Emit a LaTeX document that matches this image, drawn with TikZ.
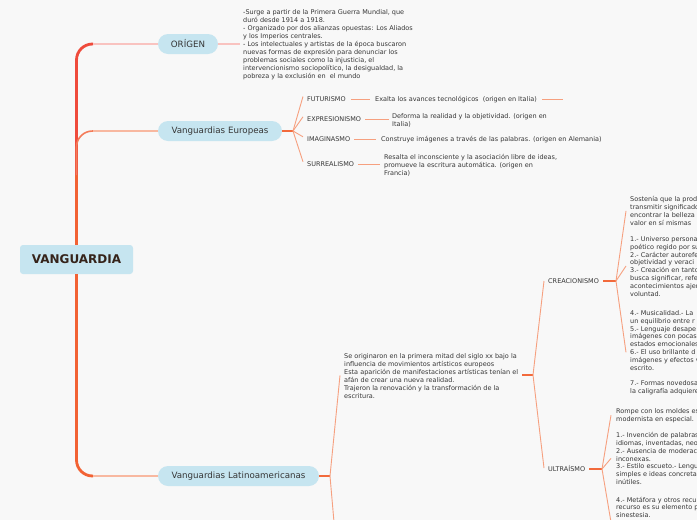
\documentclass[tikz,border=0pt]{standalone}
\usepackage{fontspec}
\setmainfont{DejaVu Sans}
\usetikzlibrary{calc}
\definecolor{bgc}{HTML}{F8F8F8}
\definecolor{nodefill}{HTML}{C6E5F0}
\definecolor{trunkred}{HTML}{EF4B3C}
\definecolor{trunkor}{HTML}{F26234}
\definecolor{branchor}{HTML}{F47C5A}
\definecolor{pinkln}{HTML}{F9C3C0}
\definecolor{salmonln}{HTML}{F8B8A0}
\definecolor{thinln}{HTML}{F6A07F}
\definecolor{stubln}{HTML}{F26A3C}
\definecolor{txtc}{HTML}{363636}
\definecolor{rootc}{HTML}{35231A}
\newcommand\firstln{\rule{0pt}{5.5pt}}
\begin{document}
\begin{tikzpicture}[x=1pt,y=-1pt,
  root/.style={fill=nodefill, rounded corners=3pt, minimum width=113pt, minimum height=29pt, inner sep=0pt, font=\bfseries\fontsize{12}{14}\selectfont, text=rootc},
  topic/.style={fill=nodefill, rounded corners=10pt, minimum height=20pt, inner sep=0pt, font=\fontsize{8.7}{10}\selectfont, text=txtc},
  lbl/.style={anchor=west, inner sep=0pt, text height=4.8pt, text depth=0pt, font=\fontsize{6.5}{8}\selectfont, text=txtc},
  blk/.style={anchor=north west, inner sep=0pt, align=left, font=\fontsize{6.5}{8}\selectfont, text=txtc},
  blkb/.style={blk, font=\fontsize{6.5}{7.8}\selectfont},
  trunk/.style={line width=2.8pt},
  hline/.style={line width=1.3pt},
  thin/.style={thinln, line width=0.9pt},
  stub/.style={stubln, line width=1.5pt},
]
\path[use as bounding box, fill=bgc] (0,0) rectangle (697,520);
\clip (0,0) rectangle (697,520);

% main nodes
\node[root] (vang) at (76.5,259.5) {VANGUARDIA};
\node[topic, minimum width=60pt] (orig) at (188,44) {ORÍGEN};
\node[topic, minimum width=124pt] (euro) at (220,131) {Vanguardias Europeas};
\node[topic, minimum width=161pt] (lat) at (238.5,476) {Vanguardias Latinoamericanas};

% trunk
\coordinate (oj) at (93,44);
\coordinate (ej) at (93,131);
\coordinate (ejs) at (76.5,175);
\coordinate (lj) at (93,476);
\draw[trunk, trunkred, rounded corners=16pt] (vang.north) |- (oj);
\draw[trunk, trunkor] (vang.north) -- (ejs);
\draw[line width=1.6pt, branchor, rounded corners=16pt] (ejs) |- (ej);
\draw[trunk, trunkor, rounded corners=16pt] (vang.south) |- (lj);
\draw[hline, pinkln] (oj) -- (orig.west);
\draw[hline, salmonln] (ej) -- (euro.west);
\draw[hline, salmonln] (lj) -- (lat.west);

% ORIGEN text
\node[blk] (origtxt) at (243,9) {\firstln-Surge a partir de la Primera Guerra Mundial, que\\
duró desde 1914 a 1918.\\
- Organizado por dos alianzas opuestas: Los Aliados\\
y los Imperios centrales.\\
- Los intelectuales y artistas de la época buscaron\\
nuevas formas de expresión para denunciar los\\
problemas sociales como la injusticia, el\\
intervencionismo sociopolítico, la desigualdad, la\\
pobreza y la exclusión en\ \ el mundo};
\draw[hline, pinkln, shorten >=3pt] (orig.east) -- (orig.east -| origtxt.west);

% Europeas
\coordinate (ef) at (293,131);
\draw[stub] (euro.east) -- (ef);
\node[lbl] (fut) at (307,99) {FUTURISMO};
\node[lbl] (expr) at (307,119.3) {EXPRESIONISMO};
\node[lbl] (ima) at (307,139.3) {IMAGINASMO};
\node[lbl] (sur) at (307,164.3) {SURREALISMO};
\foreach \n in {fut,expr,ima,sur}{
  \draw[thin] (ef) -- ($(\n.west)+(-4,-2.5)$);
}
\node[blk] (futd) at (375,95.7) {\firstln Exalta los avances tecnológicos\ \ (origen en Italia)};
\node[blk] (exprd) at (392,112.4) {\firstln Deforma la realidad y la objetividad. (origen en\\Italia)};
\node[blk] (imad) at (381,136) {\firstln Construye imágenes a través de las palabras. (origen en Alemania)};
\node[blk] (surd) at (384,153.4) {\firstln Resalta el inconsciente y la asociación libre de ideas,\\promueve la escritura automática. (origen en\\Francia)};
\draw[thin, shorten <=5pt, shorten >=5pt] (fut.east) -- (fut.east -| futd.west);
\draw[thin, shorten <=4pt, shorten >=3pt] (expr.east) -- (expr.east -| exprd.west);
\draw[thin, shorten <=4pt, shorten >=5pt] (ima.east) -- (ima.east -| imad.west);
\draw[thin, shorten <=4pt, shorten >=4pt] (sur.east) -- (sur.east -| surd.west);
\coordinate (futend) at (563,99);
\draw[thin, shorten <=5pt] (fut.east -| futd.east) -- (futend);

% Latinoamericanas
\coordinate (lf) at (330,476);
\coordinate (lend) at (336,545);
\draw[stub] (lat.east) -- (lf);
\node[blk] (lattxt) at (344,352.4) {\firstln Se originaron en la primera mitad del siglo xx bajo la\\
influencia de movimientos artísticos europeos\\
Esta aparición de manifestaciones artísticas tenían el\\
afán de crear una nueva realidad.\\
Trajeron la renovación y la transformación de la\\
escritura.};
\draw[thin] (lf) -- ($(lattxt.west)+(-4,0)$);
\draw[thin] (lf) -- (lend);
\coordinate (cf) at (533,375);
\draw[stub, line width=1.2pt, shorten <=4pt] (lattxt.east |- cf) -- (cf);

\node[lbl] (crea) at (548,281) {CREACIONISMO};
\node[lbl] (ultra) at (548,469) {ULTRAÍSMO};
\draw[thin] (cf) -- ($(crea.west)+(-4,0)$);
\draw[thin] (cf) -- ($(ultra.west)+(-4,-1)$);

% Creacionismo
\coordinate (crf) at (616,281);
\draw[stub, shorten <=4pt] (crea.east) -- (crf);
\node[blkb] (c1) at (630,196.2) {\firstln Sostenía que la prod\\
transmitir significado\\
encontrar la belleza\\
valor en sí mismas};
\node[blkb] (c2) at (630,235.7) {\firstln 1.- Universo persona\\
poético regido por su\\
2.- Carácter autorefe\\
objetividad y veraci\\
3.- Creación en tanto\\
busca significar, refe\\
acontecimientos ajen\\
voluntad.};
\node[blkb] (c3) at (630,309.7) {\firstln 4.- Musicalidad.- La\\
un equilibrio entre r\\
5.- Lenguaje desape\\
imágenes con pocas\\
estados emocionales\\
6.- El uso brillante d\\
imágenes y efectos v\\
escrito.\\[7.8pt]
7.- Formas novedosa\\
la caligrafía adquiere};
\foreach \n in {c1,c2,c3}{
  \draw[thin] (crf) -- ($(\n.west)+(-4,0)$);
}

% Ultraismo
\coordinate (uf) at (602,469);
\draw[stub, shorten <=4pt] (ultra.east) -- (uf);
\node[blkb] (u1) at (616,407.7) {\firstln Rompe con los moldes es\\
modernista en especial.};
\node[blkb] (u2) at (616,432) {\firstln 1.- Invención de palabras\\
idiomas, inventadas, neo\\
2.- Ausencia de moderac\\
inconexas.\\
3.- Estilo escueto.- Lengu\\
simples e ideas concreta\\
inútiles.};
\node[blkb] (u3) at (616,496.4) {\firstln 4.- Metáfora y otros recu\\
recurso es su elemento p\\
sinestesia.};
\coordinate (u3c) at (612,528);
\draw[thin] (uf) -- ($(u1.west)+(-5,0)$);
\draw[thin] (uf) -- ($(u2.west)+(-5,0)$);
\draw[thin] (uf) -- (u3c);
\end{tikzpicture}
\end{document}
